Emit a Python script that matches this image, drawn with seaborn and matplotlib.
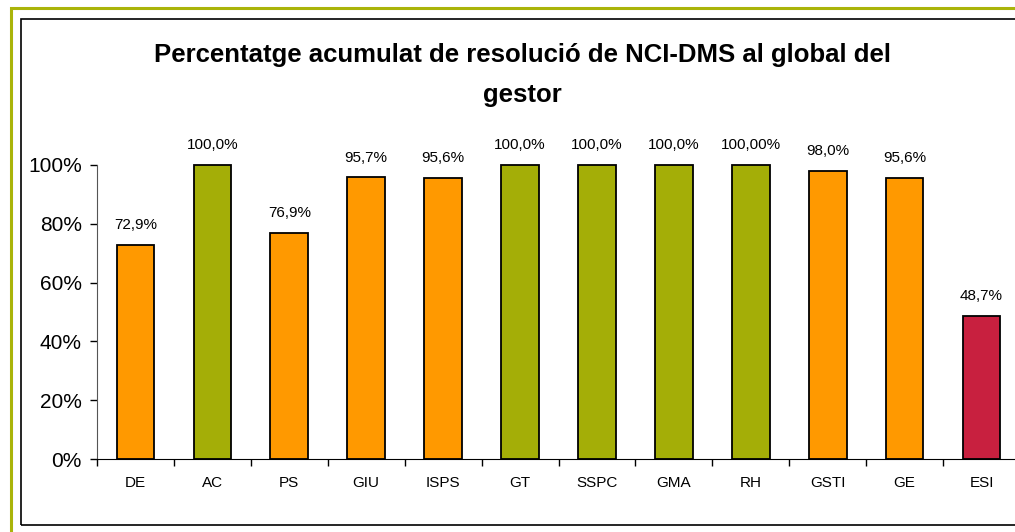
import matplotlib
matplotlib.use("Agg")
import matplotlib.pyplot as plt
from matplotlib.patches import Rectangle
from matplotlib.ticker import PercentFormatter
import seaborn as sns
import pandas as pd

categories = ["DE", "AC", "PS", "GIU", "ISPS", "GT", "SSPC", "GMA", "RH", "GSTI", "GE", "ESI"]
values = [72.9, 100.0, 76.9, 95.7, 95.6, 100.0, 100.0, 100.0, 100.0, 98.0, 95.6, 48.7]
value_labels = ["72,9%", "100,0%", "76,9%", "95,7%", "95,6%", "100,0%", "100,0%",
                "100,0%", "100,00%", "98,0%", "95,6%", "48,7%"]
groups = ["baix", "ok", "baix", "baix", "baix", "ok", "ok", "ok", "ok", "baix", "baix", "critic"]
palette = {"baix": "#FF9900", "ok": "#A4AE07", "critic": "#C8203F"}

df = pd.DataFrame({"unitat": categories, "pct": values, "grup": groups})

sns.set_style("white")
plt.rcParams['font.family'] = ['Liberation Sans', 'DejaVu Sans']
plt.rcParams['text.color'] = 'black'
plt.rcParams['xtick.color'] = 'black'
plt.rcParams['ytick.color'] = 'black'

fig = plt.figure(figsize=(10.15, 5.32), dpi=100)

# marcs exteriors (verd i negre)
fig.patches.append(Rectangle((11 / 1015, -0.1), 1.2, (532 - 7.5) / 532 + 0.1,
                             transform=fig.transFigure, fill=False,
                             edgecolor="#AAB40A", linewidth=2.2))
fig.patches.append(Rectangle((21 / 1015, (532 - 525) / 532), 1.2, (525 - 19) / 532,
                             transform=fig.transFigure, fill=False,
                             edgecolor="black", linewidth=1.2))

ax = fig.add_axes([97 / 1015, (532 - 459.3) / 532, 923 / 1015, 294.6 / 532])
sns.barplot(data=df, x="unitat", y="pct", hue="grup", palette=palette, dodge=False,
            legend=False, width=0.49, saturation=1, edgecolor="black", linewidth=1.3, ax=ax)
for p in ax.patches:
    p.set_clip_on(False)

for i, (v, lab) in enumerate(zip(values, value_labels)):
    ax.annotate(lab, (i, v), xytext=(0, 9), textcoords="offset points",
                ha="center", va="bottom", fontsize=11)

ax.set_ylim(0, 100)
ax.set_xlim(-0.5, len(categories) - 0.5)
ax.set_yticks([0, 20, 40, 60, 80, 100])
ax.yaxis.set_major_formatter(PercentFormatter(decimals=0))
ax.set_xticks(range(len(categories)))
ax.set_xticklabels(categories, fontsize=11)
ax.tick_params(axis="y", labelsize=15, length=5, width=1, direction="out", left=True, pad=6)
ax.tick_params(axis="x", length=0, pad=12)
# marques entre categories a l'eix x
ax.set_xticks([i - 0.5 for i in range(len(categories) + 1)], minor=True)
ax.tick_params(axis="x", which="minor", length=5, width=1, direction="out", bottom=True)
ax.set_xlabel("")
ax.set_ylabel("")
sns.despine(ax=ax)
ax.spines["left"].set_color("#555555")
ax.spines["bottom"].set_color("black")

fig.text(522 / 1015, 1 - 55 / 532, "Percentatge acumulat de resolució de NCI-DMS al global del",
         ha="center", va="center", fontsize=18.5, fontweight="bold")
fig.text(522 / 1015, 1 - 95 / 532, "gestor", ha="center", va="center",
         fontsize=18.5, fontweight="bold")

fig.savefig("out.png", dpi=100)
